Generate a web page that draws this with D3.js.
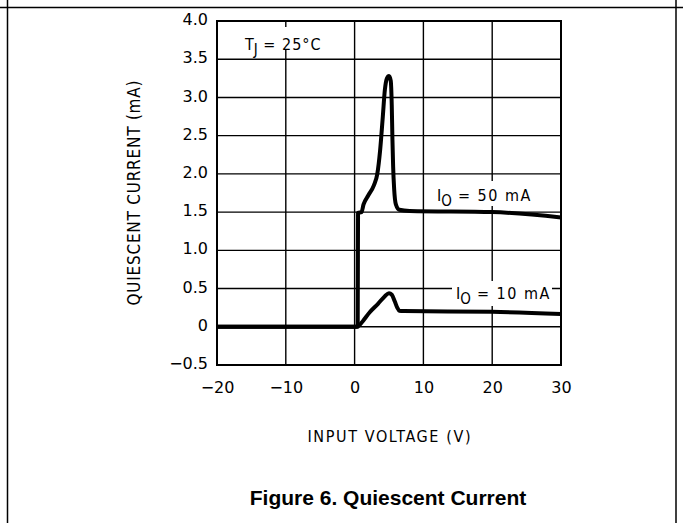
<!DOCTYPE html>
<html>
<head>
<meta charset="utf-8">
<script src="https://cdn.jsdelivr.net/npm/d3@7"></script>
<style>
  html, body { margin: 0; padding: 0; background: #fff; }
  svg { display: block; }
</style>
</head>
<body>
<svg id="chart" width="683" height="523"></svg>
<script>
// ---- data ----
const xTicks = [-20, -10, 0, 10, 20, 30];
const yTicks = [-0.5, 0, 0.5, 1.0, 1.5, 2.0, 2.5, 3.0, 3.5, 4.0];
const yTickLabels = ["\u22120.5", "0", "0.5", "1.0", "1.5", "2.0", "2.5", "3.0", "3.5", "4.0"];
const xTickLabels = ["\u221220", "\u221210", "0", "10", "20", "30"];

const vin50 = [-20, 0.45, 0.5, 1.0, 1.3, 2.0, 2.8, 3.3, 3.7, 4.1, 4.4, 4.7, 5.0, 5.25, 5.4, 5.5, 5.6, 5.75, 6.0, 6.5, 8, 20, 30];
const iq50  = [0, 0, 1.49, 1.5, 1.6, 1.72, 1.85, 2.0, 2.3, 2.75, 3.1, 3.25, 3.28, 3.22, 2.9, 2.45, 2.1, 1.8, 1.6, 1.53, 1.515, 1.5, 1.43];

const vin10 = [-20, 0.3, 0.7, 1.25, 2.2, 3.4, 4.4, 5.0, 5.4, 5.85, 6.2, 6.5, 7.1, 20, 30];
const iq10  = [0, 0, 0.02, 0.08, 0.19, 0.30, 0.40, 0.44, 0.42, 0.33, 0.25, 0.21, 0.205, 0.196, 0.166];

// ---- layout ----
const svg = d3.select("#chart");
const L = 217, R = 561, T = 21, B = 365;
const x = d3.scaleLinear().domain([-20, 30]).range([L, R]);
const y = d3.scaleLinear().domain([-0.5, 4.0]).range([B, T]);
const condFont = "'DejaVu Sans Condensed', 'DejaVu Sans', sans-serif";
const tickFont = "'DejaVu Sans', sans-serif";

// outer frame
svg.append("line").attr("x1", 0).attr("x2", 683).attr("y1", 7.5).attr("y2", 7.5).attr("stroke", "#000").attr("stroke-width", 1.5);
svg.append("line").attr("x1", 7.5).attr("x2", 7.5).attr("y1", 0).attr("y2", 523).attr("stroke", "#000").attr("stroke-width", 1.5);
svg.append("line").attr("x1", 676).attr("x2", 676).attr("y1", 0).attr("y2", 523).attr("stroke", "#000").attr("stroke-width", 1.5);

// grid
const grid = svg.append("g").attr("stroke", "#000").attr("stroke-width", 1.4);
grid.selectAll(".vx").data(xTicks).join("line")
  .attr("x1", d => x(d)).attr("x2", d => x(d)).attr("y1", T).attr("y2", B);
grid.selectAll(".hy").data(yTicks).join("line")
  .attr("x1", L).attr("x2", R).attr("y1", d => y(d)).attr("y2", d => y(d));
svg.append("rect").attr("x", L).attr("y", T).attr("width", R - L).attr("height", B - T)
  .attr("fill", "none").attr("stroke", "#000").attr("stroke-width", 2);

// axes via d3 axis (labels only)
const xAxis = d3.axisBottom(x).tickValues(xTicks).tickSize(0).tickPadding(0)
  .tickFormat((d, i) => xTickLabels[i]);
const gx = svg.append("g").attr("transform", `translate(0,${B + 17})`).call(xAxis);
gx.select(".domain").remove();
gx.selectAll("text").attr("font-family", tickFont).attr("font-size", 16).attr("fill", "#000").attr("dy", "0.71em");

const yAxis = d3.axisLeft(y).tickValues(yTicks).tickSize(0).tickPadding(0)
  .tickFormat((d, i) => yTickLabels[i]);
const gy = svg.append("g").attr("transform", `translate(${L - 9},-1.5)`).call(yAxis);
gy.select(".domain").remove();
gy.selectAll("text").attr("font-family", tickFont).attr("font-size", 16).attr("fill", "#000");

// curves
const line = d3.line().x(d => x(d[0])).y(d => y(d[1])).curve(d3.curveMonotoneX);
svg.append("path").datum(vin10.map((v, i) => [v, iq10[i]]))
  .attr("d", line).attr("fill", "none").attr("stroke", "#000").attr("stroke-width", 4).attr("stroke-linejoin", "round");
svg.append("path").datum(vin50.map((v, i) => [v, iq50[i]]))
  .attr("d", line).attr("fill", "none").attr("stroke", "#000").attr("stroke-width", 4).attr("stroke-linejoin", "round");

// annotations with white backgrounds
function label(parts, lx, ly, bg) {
  const g = svg.append("g");
  if (bg) g.append("rect").attr("x", bg[0]).attr("y", bg[1]).attr("width", bg[2]).attr("height", bg[3]).attr("fill", "#fff");
  const t = g.append("text").attr("x", lx).attr("y", ly).attr("font-family", condFont).attr("font-size", 16).attr("fill", "#000");
  parts.forEach(p => {
    const s = t.append("tspan").text(p.t);
    if (p.sub) s.attr("font-size", 15).attr("dy", 5);
    if (p.up) s.attr("dy", -5);
    if (p.ls) s.attr("letter-spacing", p.ls);
  });
  return g;
}
label([{t: "T"}, {t: "J", sub: true}, {t: " = 25\u00B0C", up: true, ls: 1}], 245, 50, [242, 27, 82, 22]);
label([{t: "I"}, {t: "O", sub: true}, {t: " = 50 mA", up: true, ls: 1.5}], 437, 201, [433, 181, 97, 25]);
label([{t: "I"}, {t: "O", sub: true}, {t: " = 10 mA", up: true, ls: 1.5}], 456, 299, [452, 281, 100, 25]);

// axis titles
svg.append("text").attr("x", (L + R) / 2).attr("y", 442).attr("text-anchor", "middle")
  .attr("textLength", 163).attr("lengthAdjust", "spacing")
  .attr("font-family", condFont).attr("font-size", 16).attr("fill", "#000").text("INPUT VOLTAGE (V)");
svg.append("text").attr("transform", `translate(140,${(T + B) / 2}) rotate(-90)`).attr("text-anchor", "middle")
  .attr("textLength", 225).attr("lengthAdjust", "spacing")
  .attr("font-family", condFont).attr("font-size", 17).attr("fill", "#000").text("QUIESCENT CURRENT (mA)");

// figure caption
svg.append("text").attr("x", 388).attr("y", 505).attr("text-anchor", "middle")
  .attr("font-family", "'Liberation Sans', Arial, sans-serif").attr("font-weight", "bold").attr("font-size", 21)
  .attr("fill", "#000").text("Figure 6. Quiescent Current");
</script>
</body>
</html>
